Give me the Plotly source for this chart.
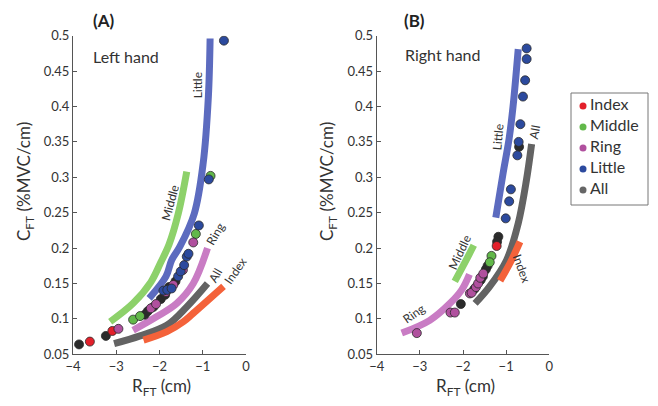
import plotly.graph_objects as go

# ---------------- data ----------------
fingers = ["Index", "Middle", "Ring", "Little", "All"]
point_colors = {"Index": "#e3202b", "Middle": "#62b84a", "Ring": "#b0509e",
                "Little": "#2c4a9e", "All": "#2b2b2b"}
legend_colors = {"Index": "#e3202b", "Middle": "#62b84a", "Ring": "#b0509e",
                 "Little": "#2c4a9e", "All": "#666666"}
curve_colors = {"Index": "#f4623a", "Middle": "#8dd16a", "Ring": "#c97cc4",
                "Little": "#5c6bbf", "All": "#636363"}

# Left hand points (x = R_FT, y = C_FT)
left_index_x = [-3.61, -3.09]
left_index_y = [0.068, 0.083]
left_middle_x = [-2.61, -2.45, -1.16, -0.82]
left_middle_y = [0.099, 0.104, 0.220, 0.302]
left_ring_x = [-2.95, -2.20, -2.08, -1.85, -1.68, -1.46, -1.22]
left_ring_y = [0.086, 0.115, 0.121, 0.138, 0.148, 0.169, 0.208]
left_little_x = [-1.91, -1.82, -1.72, -1.57, -1.51, -1.43, -1.37, -1.33, -1.09, -0.86, -0.51]
left_little_y = [0.140, 0.141, 0.143, 0.160, 0.167, 0.176, 0.188, 0.192, 0.232, 0.297, 0.493]
left_all_x = [-3.86, -3.24, -2.34, -2.27, -2.14, -1.97, -1.87, -1.78, -1.63]
left_all_y = [0.064, 0.076, 0.106, 0.111, 0.117, 0.128, 0.134, 0.145, 0.153]

# Right hand points
right_index_x = [-1.22]
right_index_y = [0.203]
right_middle_x = [-1.34, -1.38]
right_middle_y = [0.189, 0.180]
right_ring_x = [-3.07, -2.29, -2.19, -1.84, -1.80, -1.70, -1.65, -1.60, -1.53]
right_ring_y = [0.080, 0.109, 0.109, 0.136, 0.137, 0.145, 0.150, 0.158, 0.164]
right_little_x = [-0.525, -0.525, -0.56, -0.61, -0.67, -0.71, -0.74, -0.89, -0.93, -1.01]
right_little_y = [0.482, 0.467, 0.437, 0.414, 0.375, 0.350, 0.331, 0.283, 0.266, 0.242]
right_all_x = [-0.70, -1.18, -1.21, -1.43, -1.47, -1.54, -1.59, -1.74, -2.05]
right_all_y = [0.343, 0.216, 0.209, 0.175, 0.170, 0.160, 0.155, 0.142, 0.121]

# Fitted curves, left hand
lc_little_x = [-2.24, -1.85, -1.72, -1.53, -1.195, -0.99, -0.87, -0.83]
lc_little_y = [0.129, 0.160, 0.183, 0.202, 0.249, 0.320, 0.414, 0.496]
lc_middle_x = [-3.14, -2.61, -2.20, -1.97, -1.78, -1.565, -1.37]
lc_middle_y = [0.096, 0.122, 0.152, 0.180, 0.205, 0.249, 0.308]
lc_ring_x = [-2.61, -2.07, -1.60, -1.22, -0.89]
lc_ring_y = [0.084, 0.103, 0.122, 0.150, 0.200]
lc_all_x = [-3.05, -2.45, -1.83, -1.37, -0.89]
lc_all_y = [0.065, 0.076, 0.091, 0.117, 0.150]
lc_index_x = [-2.37, -1.83, -1.45, -1.22, -0.52]
lc_index_y = [0.070, 0.082, 0.096, 0.108, 0.146]

# Fitted curves, right hand
rc_little_x = [-1.24, -1.07, -0.93, -0.84, -0.72]
rc_little_y = [0.243, 0.306, 0.355, 0.400, 0.481]
rc_all_x = [-1.72, -1.38, -0.99, -0.72, -0.53, -0.41]
rc_all_y = [0.122, 0.146, 0.183, 0.235, 0.296, 0.347]
rc_middle_x = [-2.19, -1.97, -1.75]
rc_middle_y = [0.153, 0.178, 0.204]
rc_ring_x = [-3.42, -2.77, -2.30, -2.03, -1.85]
rc_ring_y = [0.080, 0.098, 0.122, 0.141, 0.163]
rc_index_x = [-1.14, -0.90, -0.68]
rc_index_y = [0.154, 0.180, 0.209]

x_ticks = [-4, -3, -2, -1, 0]
y_ticks = [0.05, 0.1, 0.15, 0.2, 0.25, 0.3, 0.35, 0.4, 0.45, 0.5]
y_tick_text = ["0.05", "0.1", "0.15", "0.2", "0.25", "0.3", "0.35", "0.4", "0.45", "0.5"]

FONT = "Lato"
W, H = 658, 406

left_pts = {"Index": (left_index_x, left_index_y), "Middle": (left_middle_x, left_middle_y),
            "Ring": (left_ring_x, left_ring_y), "Little": (left_little_x, left_little_y),
            "All": (left_all_x, left_all_y)}
right_pts = {"Index": (right_index_x, right_index_y), "Middle": (right_middle_x, right_middle_y),
             "Ring": (right_ring_x, right_ring_y), "Little": (right_little_x, right_little_y),
             "All": (right_all_x, right_all_y)}
left_curves = {"Little": (lc_little_x, lc_little_y), "Middle": (lc_middle_x, lc_middle_y),
               "Ring": (lc_ring_x, lc_ring_y), "All": (lc_all_x, lc_all_y),
               "Index": (lc_index_x, lc_index_y)}
right_curves = {"Little": (rc_little_x, rc_little_y), "Middle": (rc_middle_x, rc_middle_y),
                "Ring": (rc_ring_x, rc_ring_y), "All": (rc_all_x, rc_all_y),
                "Index": (rc_index_x, rc_index_y)}

fig = go.Figure()

for xa, ya, curves, pts in [("x", "y", left_curves, left_pts), ("x2", "y2", right_curves, right_pts)]:
    for name, (cx, cy) in curves.items():
        fig.add_trace(go.Scatter(x=cx, y=cy, mode="lines", xaxis=xa, yaxis=ya,
                                 line=dict(color=curve_colors[name], width=7, shape="spline",
                                           smoothing=1.0),
                                 showlegend=False, hoverinfo="skip"))
    for name in ["All", "Index", "Middle", "Ring", "Little"]:
        px, py = pts[name]
        fig.add_trace(go.Scatter(x=px, y=py, mode="markers", xaxis=xa, yaxis=ya,
                                 marker=dict(color=point_colors[name], size=9,
                                             line=dict(color="#2a2a2a", width=0.8)),
                                 showlegend=False, name=name))

# hand-built legend on its own hidden axes
leg_idx = list(range(len(fingers)))
fig.add_trace(go.Scatter(x=[12] * len(fingers), y=leg_idx, mode="markers", xaxis="x3", yaxis="y3",
                         marker=dict(color=[legend_colors[f] for f in fingers], size=7),
                         showlegend=False, hoverinfo="skip"))
fig.add_trace(go.Scatter(x=[19] * len(fingers), y=leg_idx, mode="text", xaxis="x3", yaxis="y3",
                         text=fingers, textposition="middle right",
                         textfont=dict(size=16, color="#333333", family=FONT),
                         showlegend=False, hoverinfo="skip"))

ax_common = dict(range=[-4, 0], tickvals=x_ticks, ticks="inside", ticklen=4,
                 showline=True, linecolor="#555555", linewidth=1, tickcolor="#555555",
                 showgrid=False, zeroline=False, automargin=False,
                 tickfont=dict(size=13, color="#333333", family=FONT))
ay_common = dict(range=[0.05, 0.5], tickvals=y_ticks, ticktext=y_tick_text, ticks="inside", ticklen=4,
                 showline=True, linecolor="#555555", linewidth=1, tickcolor="#555555",
                 showgrid=False, zeroline=False, automargin=False,
                 tickfont=dict(size=13, color="#333333", family=FONT))
hidden = dict(visible=False, showgrid=False, zeroline=False, fixedrange=True)

y0 = 1 - 354.33 / H
y1 = 1 - 35.67 / H
LX0, LX1, LY0, LY1 = 571, 648, 93, 205
fig.update_layout(
    width=W, height=H, margin=dict(l=0, r=0, t=0, b=0, autoexpand=False),
    paper_bgcolor="white", plot_bgcolor="white",
    font=dict(family=FONT, color="#333333"),
    showlegend=False,
    xaxis=dict(domain=[73 / W, 246 / W], anchor="y", **ax_common),
    yaxis=dict(domain=[y0, y1], anchor="x", **ay_common),
    xaxis2=dict(domain=[376.7 / W, 549.3 / W], anchor="y2", **ax_common),
    yaxis2=dict(domain=[y0, y1], anchor="x2", **ay_common),
    xaxis3=dict(domain=[LX0 / W, LX1 / W], anchor="y3", range=[0, LX1 - LX0], **hidden),
    yaxis3=dict(domain=[1 - LY1 / H, 1 - LY0 / H], anchor="x3",
                range=[(LY1 - 106) / 21, (LY0 - 106) / 21], **hidden),
    shapes=[dict(type="rect", xref="paper", yref="paper", x0=LX0 / W, x1=LX1 / W,
                 y0=1 - LY1 / H, y1=1 - LY0 / H, line=dict(color="#777777", width=1),
                 fillcolor="rgba(0,0,0,0)", layer="below")],
)

C = dict(xanchor="center", yanchor="middle", showarrow=False)
ann = []
lab_font = dict(size=12, color="#333333", family=FONT)
for t, x, y, a in [("Little", -1.13, 0.430, -90), ("Middle", -1.75, 0.264, -75),
                   ("Ring", -0.70, 0.220, -60), ("All", -0.72, 0.162, -60),
                   ("Index", -0.24, 0.168, -55)]:
    ann.append(dict(text=t, x=x, y=y, xref="x", yref="y", textangle=a, font=lab_font, **C))
for t, x, y, a in [("Little", -1.18, 0.357, -85), ("All", -0.33, 0.364, -80),
                   ("Middle", -2.07, 0.195, -65), ("Index", -0.64, 0.171, 70),
                   ("Ring", -3.14, 0.108, -35)]:
    ann.append(dict(text=t, x=x, y=y, xref="x2", yref="y2", textangle=a, font=lab_font, **C))
big = dict(size=16, color="#333333", family=FONT)
ann.append(dict(text="Left hand", x=-2.77, y=0.471, xref="x", yref="y", font=big, **C))
ann.append(dict(text="Right hand", x=-2.46, y=0.473, xref="x2", yref="y2", font=big, **C))
ttl = dict(size=17, color="#222222", family=FONT)
ann.append(dict(text="<b>(A)</b>", x=103.3 / W, y=1 - 20.7 / H, xref="paper", yref="paper", font=ttl, **C))
ann.append(dict(text="<b>(B)</b>", x=414.3 / W, y=1 - 20.7 / H, xref="paper", yref="paper", font=ttl, **C))
ytitle = "C<sub>FT</sub> (%MVC/cm)"
xtitle = "R<sub>FT</sub> (cm)"
axt = dict(size=17, color="#333333", family=FONT)
for xp in [25 / W, 328 / W]:
    ann.append(dict(text=ytitle, x=xp, y=1 - 182 / H, xref="paper", yref="paper", textangle=-90,
                    font=axt, **C))
for xp in [161 / W, 465 / W]:
    ann.append(dict(text=xtitle, x=xp, y=1 - 387 / H, xref="paper", yref="paper", font=axt, **C))
fig.update_layout(annotations=ann)

fig.write_html("out.html", config={"displayModeBar": False},
               post_script="document.body.style.margin='0';")
